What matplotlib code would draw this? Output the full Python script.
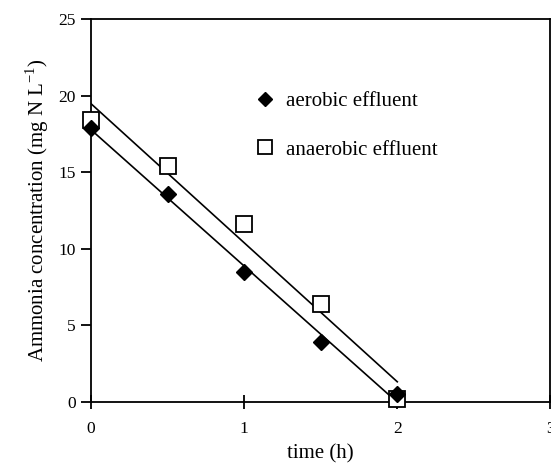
import numpy as np
import matplotlib
matplotlib.use("Agg")
import matplotlib.pyplot as plt

plt.rcParams['font.family'] = ['Liberation Serif', 'DejaVu Serif']

# measured ammonia (mg N/L) against time (h)
time_h = [0, 0.5, 1, 1.5, 2]
aerobic = [17.9, 13.6, 8.5, 3.9, 0.5]
anaerobic = [18.4, 15.4, 11.6, 6.4, 0.2]

fig = plt.figure(figsize=(5.51, 4.65), dpi=100)
ax = fig.add_axes([0.165, 0.1355, 0.834, 0.8235])

# linear fits drawn over the sampled range
xs = np.array([0, 2])
for ys in (aerobic, anaerobic):
    k, b = np.polyfit(time_h, ys, 1)
    ax.plot(xs, k * xs + b, color='black', lw=1.2, zorder=2)

ax.plot(time_h, anaerobic, 's', mfc='white', mec='black', mew=1.3, ms=11,
        ls='none', label='anaerobic effluent', zorder=3, clip_on=False)
ax.plot(time_h, aerobic, 'D', color='black', ms=8, ls='none',
        label='aerobic effluent', zorder=4, clip_on=False)

ax.set_xlim(0, 3)
ax.set_ylim(0, 25)
ax.set_xticks([0, 1, 2, 3])
ax.set_yticks([0, 5, 10, 15, 20, 25])
ax.tick_params(axis='y', direction='out', length=7, width=1.3, labelsize=12.5, pad=4)
ax.tick_params(axis='x', direction='inout', length=10, width=1.3, labelsize=12.5, pad=9)
for s in ax.spines.values():
    s.set_linewidth(1.3)

ax.set_xlabel('time (h)', fontsize=15, labelpad=5)
ax.set_ylabel('Ammonia concentration (mg N L$^{\\mathregular{-1}}$)', fontsize=15, labelpad=5)

handles, labels = ax.get_legend_handles_labels()
ax.legend(handles[::-1], labels[::-1], loc='upper left', bbox_to_anchor=(0.31, 0.86),
          frameon=False, fontsize=15, labelspacing=1.4, handletextpad=0.45,
          handlelength=1.2, markerscale=0.9)

fig.savefig('out.png', dpi=100)
